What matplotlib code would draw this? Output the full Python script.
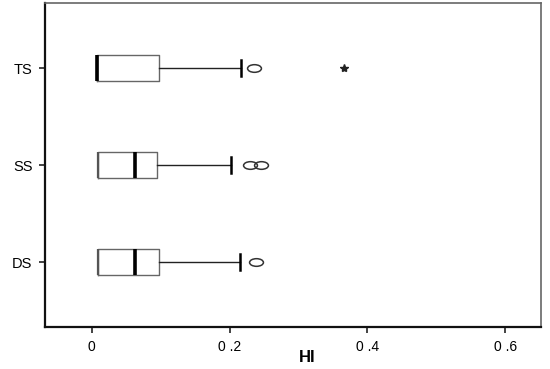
import matplotlib
matplotlib.use("Agg")
import matplotlib.pyplot as plt
from matplotlib.path import Path
from matplotlib.transforms import Affine2D

plt.rcParams['font.family'] = ['Liberation Sans', 'DejaVu Sans']

groups = ['DS', 'SS', 'TS']
q1 = [0.009, 0.009, 0.008]
med = [0.062, 0.062, 0.008]
q3 = [0.097, 0.094, 0.097]
whis_lo = [0.009, 0.009, 0.008]
whis_hi = [0.215, 0.202, 0.216]
outliers_circle = [[0.238], [0.229, 0.245], [0.236]]
outliers_star = [[], [], [0.366]]
xticks = [0, 0.2, 0.4, 0.6]
xticklabels = ['0', '0 .2', '0 .4', '0 .6']

ellipse = Path.unit_circle().transformed(Affine2D().scale(1.0, 0.55))

fig = plt.figure(figsize=(5.5, 3.69), dpi=100)
ax = fig.add_axes([0.0818, 0.1138, 0.9018, 0.878])

stats = []
for i, g in enumerate(groups):
    stats.append(dict(label=g, q1=q1[i], med=med[i], q3=q3[i],
                      whislo=whis_lo[i], whishi=whis_hi[i],
                      fliers=outliers_circle[i]))
positions = [1, 2, 3]
res = ax.bxp(stats, positions=positions, vert=False, widths=0.26,
             showfliers=True,
             boxprops=dict(color='#666666', linewidth=1.0),
             medianprops=dict(color='black', linewidth=2.6, solid_capstyle='butt'),
             whiskerprops=dict(color='#222222', linewidth=1.0),
             capprops=dict(color='black', linewidth=1.8),
             capwidths=0.17,
             flierprops=dict(marker=ellipse, markersize=10, markerfacecolor='none',
                             markeredgecolor='#333333', markeredgewidth=1.1))
# lower caps coincide with box edge: draw them as a slightly thicker gray box edge
for k in range(len(groups)):
    cap = res['caps'][2 * k]
    cap.set_color('#555555')
    cap.set_linewidth(1.6)
    cap.set_solid_capstyle('butt')
    y = positions[k]
    cap.set_ydata([y - 0.13, y + 0.13])

for i, vals in enumerate(outliers_star):
    if vals:
        ax.plot(vals, [positions[i]] * len(vals), linestyle='none', marker='*',
                markersize=6, color='#222222')

ax.set_xlim(-0.068, 0.652)
ax.set_ylim(0.33, 3.67)
ax.set_xticks(xticks)
ax.set_xticklabels(xticklabels, fontsize=10)
ax.set_yticks(positions)
ax.set_yticklabels(groups, fontsize=10.5)
ax.tick_params(axis='both', length=4, width=1.2, color='#222222', pad=5)
ax.set_xlabel('HI', fontsize=12, fontweight='bold')
ax.xaxis.set_label_coords(0.528, -0.07)

for s in ['left', 'bottom']:
    ax.spines[s].set_linewidth(1.6)
    ax.spines[s].set_color('#111111')
for s in ['top', 'right']:
    ax.spines[s].set_linewidth(1.2)
    ax.spines[s].set_color('#666666')

fig.savefig('out.png', dpi=100)
